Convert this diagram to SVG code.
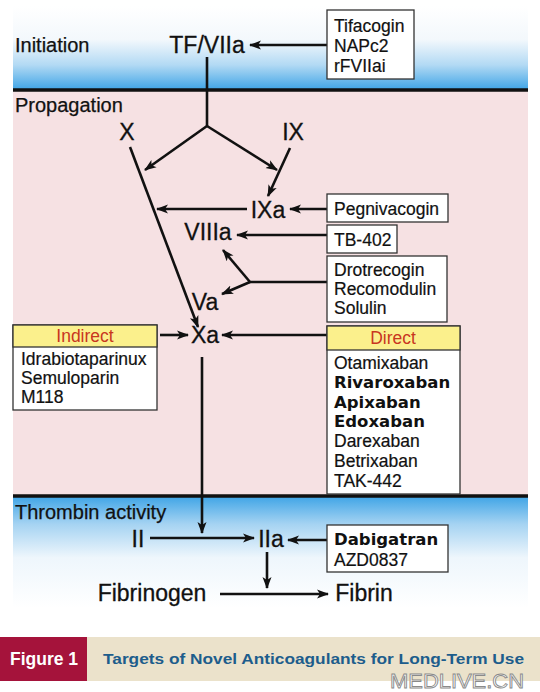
<svg xmlns="http://www.w3.org/2000/svg" width="540" height="692" viewBox="0 0 540 692">
<defs>
<linearGradient id="gInit" x1="0" y1="0" x2="0" y2="1">
<stop offset="0" stop-color="#ffffff"/>
<stop offset="0.4" stop-color="#f3f8fc"/>
<stop offset="0.7" stop-color="#b3daf4"/>
<stop offset="1" stop-color="#3ea4e6"/>
</linearGradient>
<linearGradient id="gThr" x1="0" y1="0" x2="0" y2="1">
<stop offset="0" stop-color="#3ea4e6"/>
<stop offset="0.25" stop-color="#a5d3f2"/>
<stop offset="0.55" stop-color="#eef6fc"/>
<stop offset="1" stop-color="#ffffff"/>
</linearGradient>
<marker id="ah" markerUnits="userSpaceOnUse" markerWidth="13" markerHeight="10" refX="11" refY="5" orient="auto">
<path d="M0,0.5 L12,5 L0,9.5 L3,5 z" fill="#111"/>
</marker>
<style>
.band{font-family:"Liberation Sans",Arial,sans-serif;font-size:20px;fill:#111;stroke:#111;stroke-width:0.25}
.fac{font-family:"Liberation Sans",Arial,sans-serif;font-size:23px;fill:#111;stroke:#111;stroke-width:0.3;text-anchor:middle}
.drug{font-family:"Liberation Sans",Arial,sans-serif;font-size:17.5px;fill:#111;stroke:#111;stroke-width:0.2}
.bold{font-family:"DejaVu Sans","Liberation Sans",sans-serif;font-weight:bold;font-size:16.5px;fill:#111}
.hdr{font-family:"Liberation Sans",Arial,sans-serif;font-size:17.5px;fill:#c8361f;text-anchor:middle}
.box{fill:#fff;stroke:#333;stroke-width:1.3}
.yel{fill:#fbf08c;stroke:#333;stroke-width:1.3}
.ln{stroke:#111;stroke-width:2.6;fill:none}
.ar{stroke:#111;stroke-width:2.6;fill:none;marker-end:url(#ah)}
</style>
</defs>

<g id="background">
<rect x="13" y="6" width="515" height="84" fill="url(#gInit)"/>
<rect x="13" y="90" width="515" height="406" fill="#f6e1e3"/>
<rect x="13" y="496" width="515" height="112" fill="url(#gThr)"/>
<line x1="13" y1="90" x2="528" y2="90" stroke="#111" stroke-width="3.5"/>
<line x1="13" y1="496" x2="528" y2="496" stroke="#111" stroke-width="3.5"/>
<text class="band" x="15" y="52">Initiation</text>
<text class="band" x="15" y="112">Propagation</text>
<text class="band" x="15" y="519">Thrombin activity</text>
</g>

<g id="connectors">
<line class="ar" x1="327" y1="45" x2="250" y2="45"/>
<polyline class="ln" points="207,57 207,126"/>
<line class="ar" x1="207" y1="126" x2="145" y2="170"/>
<line class="ar" x1="207" y1="126" x2="277" y2="170"/>
<line class="ar" x1="130" y1="147" x2="198" y2="327"/>
<line class="ar" x1="290" y1="148" x2="268" y2="196"/>
<line class="ar" x1="247" y1="209" x2="157" y2="209"/>
<line class="ar" x1="327" y1="209" x2="290" y2="209"/>
<line class="ar" x1="327" y1="235" x2="237" y2="235"/>
<line class="ln" x1="327" y1="282" x2="249" y2="282"/>
<line class="ar" x1="250" y1="282" x2="223" y2="250"/>
<line class="ar" x1="250" y1="282" x2="222" y2="294"/>
<line class="ar" x1="160" y1="335" x2="188" y2="335"/>
<line class="ar" x1="327" y1="335" x2="222" y2="335"/>
<line class="ar" x1="202" y1="357" x2="202" y2="533"/>
<line class="ar" x1="150" y1="538" x2="254" y2="538"/>
<line class="ar" x1="327" y1="540" x2="288" y2="540"/>
<line class="ar" x1="267" y1="552" x2="267" y2="588"/>
<line class="ar" x1="220" y1="594" x2="328" y2="594"/>
</g>

<g id="n-tfviia"><text class="fac" x="207" y="53" font-size="25">TF/VIIa</text></g>
<g id="n-x"><text class="fac" x="127" y="140">X</text></g>
<g id="n-ix"><text class="fac" x="293" y="140">IX</text></g>
<g id="n-ixa"><text class="fac" x="268" y="218">IXa</text></g>
<g id="n-viiia"><text class="fac" x="208" y="240">VIIIa</text></g>
<g id="n-va"><text class="fac" x="205" y="310">Va</text></g>
<g id="n-xa"><text class="fac" x="205" y="343">Xa</text></g>
<g id="n-ii"><text class="fac" x="138" y="547" font-size="22">II</text></g>
<g id="n-iia"><text class="fac" x="271" y="547" font-size="22">IIa</text></g>
<g id="n-fibrinogen"><text class="fac" x="152" y="601" font-size="25.5">Fibrinogen</text></g>
<g id="n-fibrin"><text class="fac" x="364" y="601" font-size="25.5">Fibrin</text></g>

<g id="b-tifacogin">
<rect class="box" x="327" y="10" width="87" height="69"/>
<text class="drug" x="334" y="32">Tifacogin</text>
<text class="drug" x="334" y="52">NAPc2</text>
<text class="drug" x="334" y="72">rFVIIai</text>
</g>
<g id="b-pegnivacogin">
<rect class="box" x="327" y="194" width="121" height="28"/>
<text class="drug" x="334" y="215">Pegnivacogin</text>
</g>
<g id="b-tb402">
<rect class="box" x="327" y="225" width="70" height="28"/>
<text class="drug" x="334" y="246">TB-402</text>
</g>
<g id="b-drotrecogin">
<rect class="box" x="327" y="256" width="120" height="66"/>
<text class="drug" x="334" y="276">Drotrecogin</text>
<text class="drug" x="334" y="295">Recomodulin</text>
<text class="drug" x="334" y="314">Solulin</text>
</g>
<g id="b-indirect">
<rect class="box" x="13" y="325" width="144" height="85"/>
<rect class="yel" x="13" y="325" width="144" height="22"/>
<text class="hdr" x="85" y="342">Indirect</text>
<text class="drug" x="21" y="365">Idrabiotaparinux</text>
<text class="drug" x="21" y="384">Semuloparin</text>
<text class="drug" x="21" y="403">M118</text>
</g>
<g id="b-direct">
<rect class="box" x="327" y="326" width="133" height="168"/>
<rect class="yel" x="327" y="326" width="133" height="24"/>
<text class="hdr" x="393" y="344">Direct</text>
<text class="drug" x="334" y="369">Otamixaban</text>
<text class="bold" x="334" y="388">Rivaroxaban</text>
<text class="bold" x="334" y="408">Apixaban</text>
<text class="bold" x="334" y="427">Edoxaban</text>
<text class="drug" x="334" y="447">Darexaban</text>
<text class="drug" x="334" y="467">Betrixaban</text>
<text class="drug" x="334" y="487">TAK-442</text>
</g>
<g id="b-dabigatran">
<rect class="box" x="327" y="525" width="121" height="47"/>
<text class="bold" x="334" y="545">Dabigatran</text>
<text class="drug" x="334" y="566">AZD0837</text>
</g>

<g id="footer">
<rect x="0" y="637" width="87" height="44" fill="#a5133b"/>
<rect x="87" y="637" width="453" height="44" fill="#ebe2cb"/>
<text x="10" y="665" font-family="Liberation Sans,Arial,sans-serif" font-weight="bold" font-size="17.5" fill="#fff">Figure 1</text>
<text x="103" y="664" font-family="Liberation Sans,Arial,sans-serif" font-weight="bold" font-size="15.5" fill="#1d5d8c" textLength="421" lengthAdjust="spacingAndGlyphs">Targets of Novel Anticoagulants for Long-Term Use</text>
<text x="390" y="688" font-family="Liberation Sans,Arial,sans-serif" font-size="21" fill="#fff" stroke="#8a8a8a" stroke-width="0.9" textLength="134" lengthAdjust="spacingAndGlyphs">MEDLIVE.CN</text>
</g>
</svg>
